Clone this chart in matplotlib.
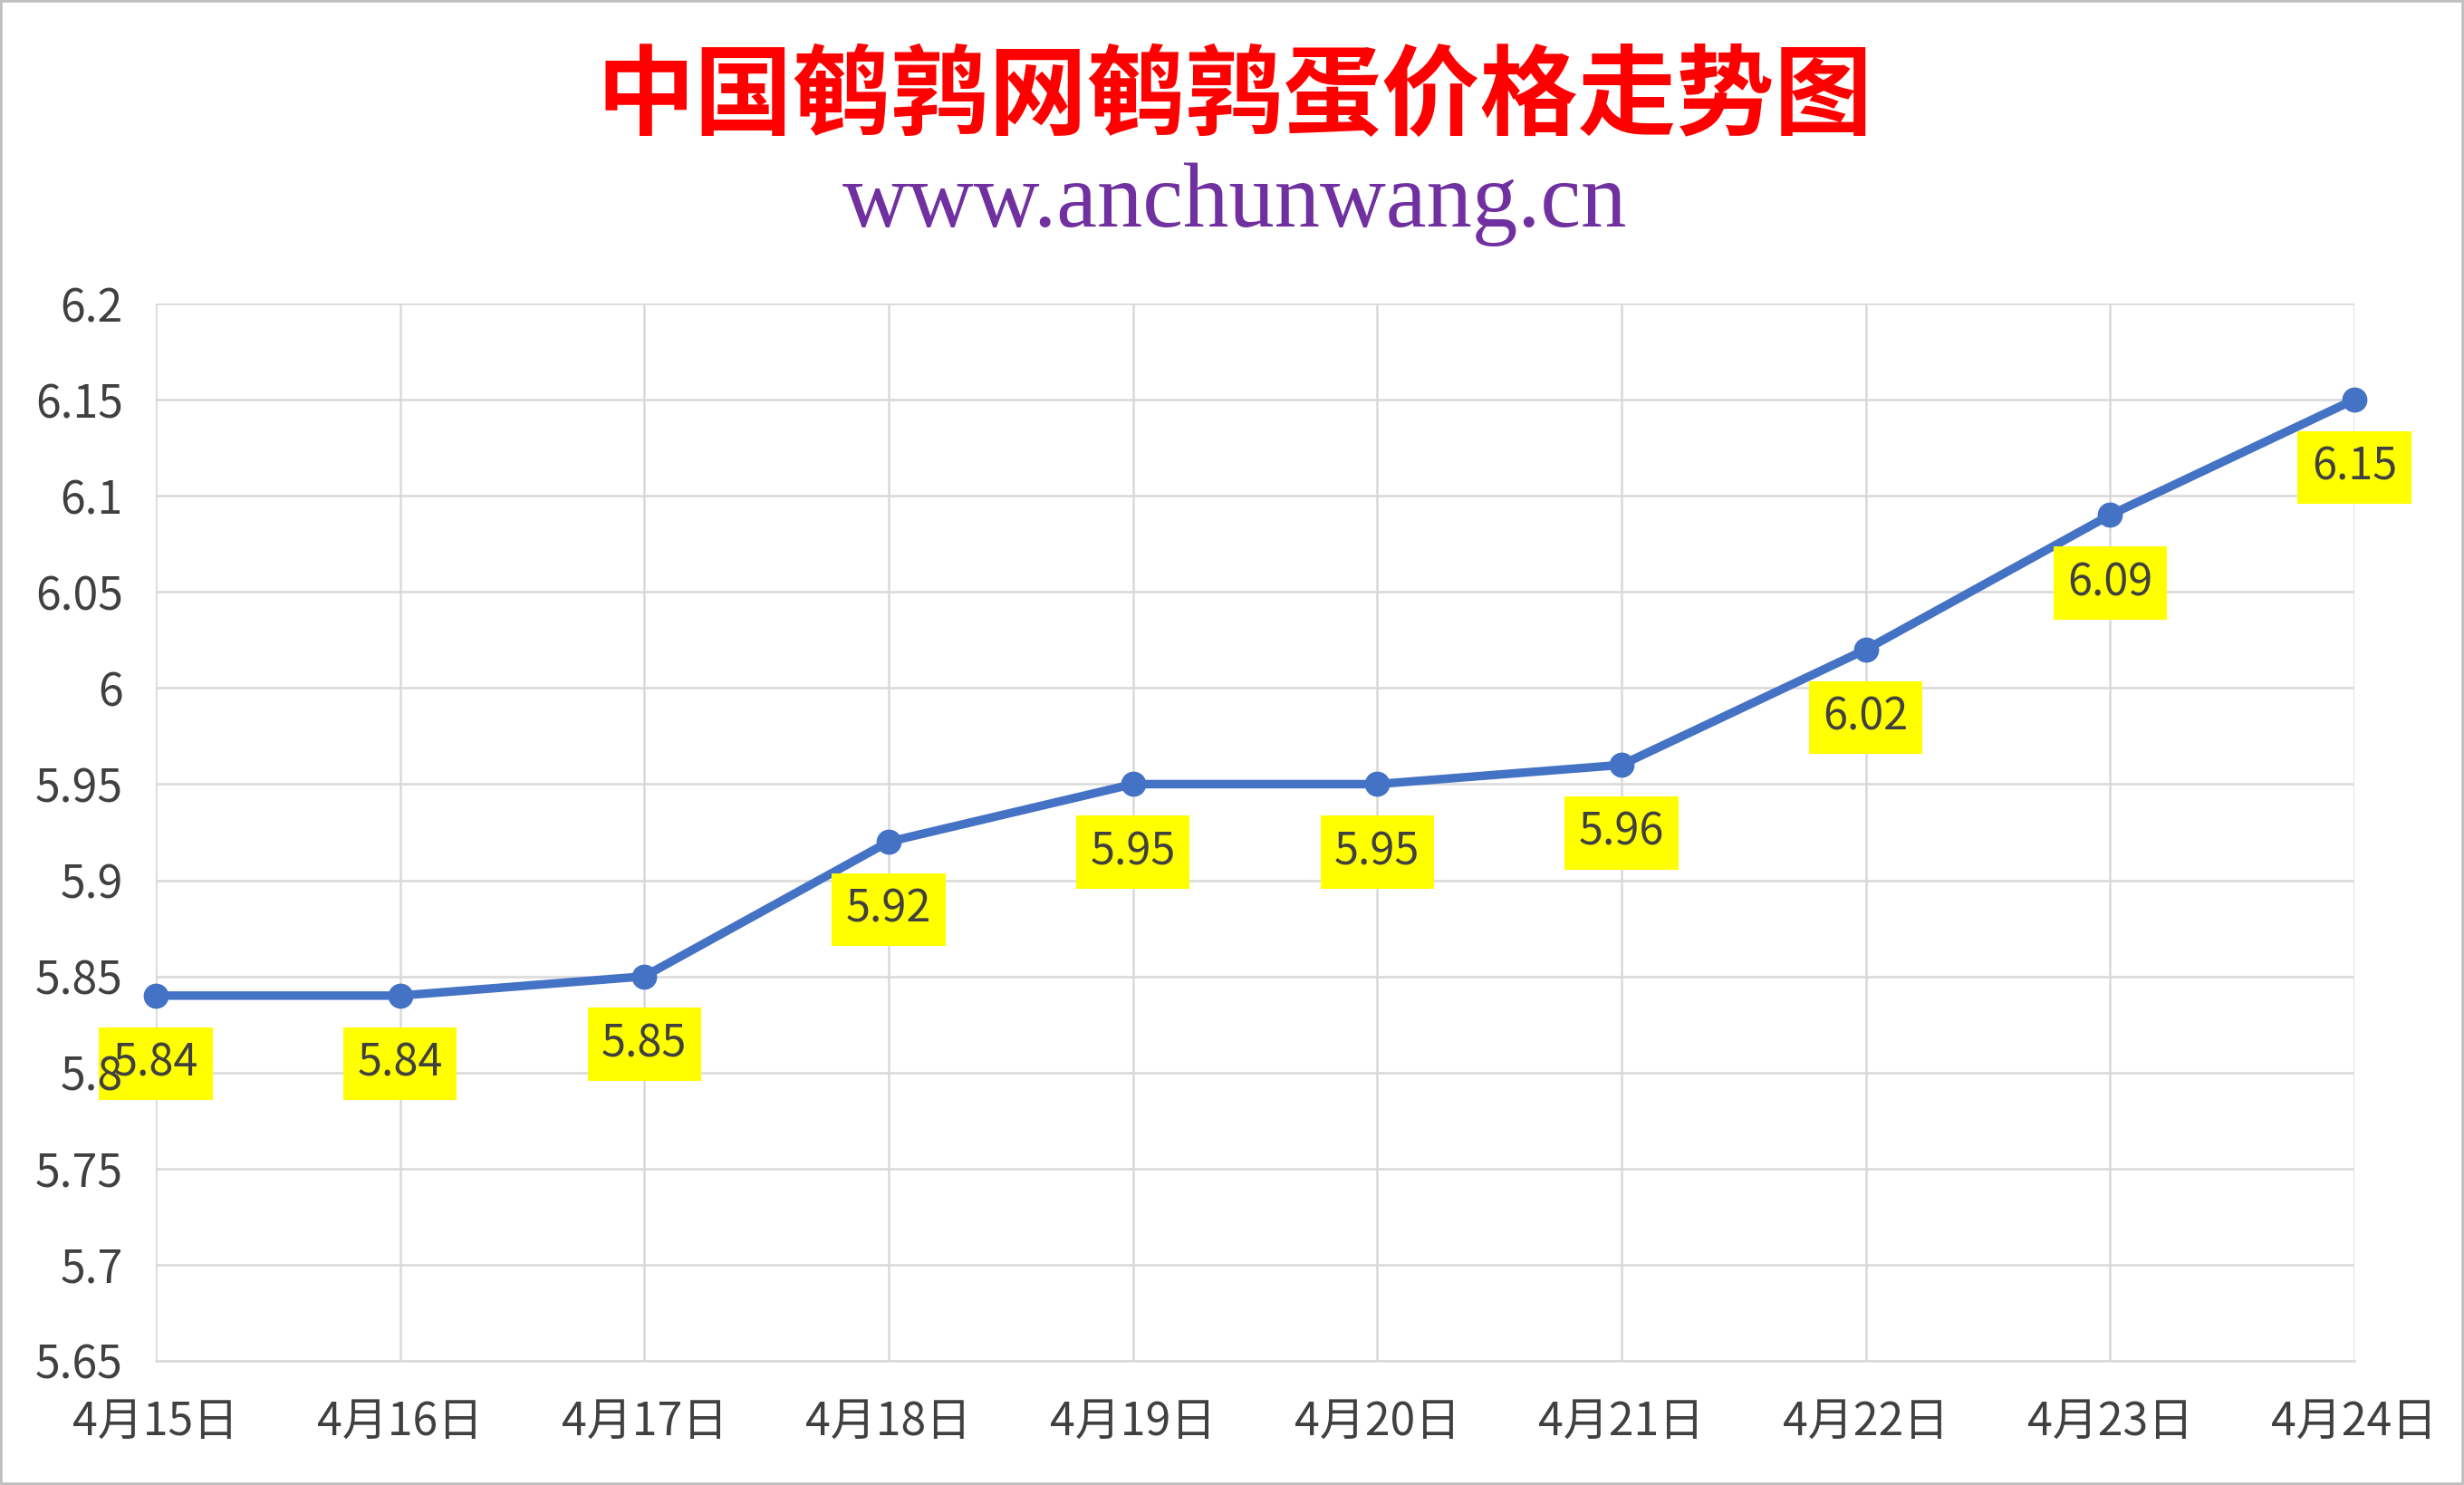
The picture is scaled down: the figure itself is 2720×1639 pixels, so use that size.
import matplotlib
matplotlib.use("Agg")
import matplotlib.pyplot as plt
from matplotlib.patches import Rectangle

#Chart data
dates = ["4月15日", "4月16日", "4月17日", "4月18日", "4月19日",
         "4月20日", "4月21日", "4月22日", "4月23日", "4月24日"]
prices = [5.84, 5.84, 5.85, 5.92, 5.95, 5.95, 5.96, 6.02, 6.09, 6.15]
y_ticks = [5.65, 5.7, 5.75, 5.8, 5.85, 5.9, 5.95, 6, 6.05, 6.1, 6.15, 6.2]
y_tick_labels = ["5.65", "5.7", "5.75", "5.8", "5.85", "5.9", "5.95", "6", "6.05", "6.1", "6.15", "6.2"]

title = "中国鹌鹑网鹌鹑蛋价格走势图"
subtitle = "www.anchunwang.cn"

plt.rcParams['font.family'] = ['Noto Sans CJK SC', 'DejaVu Sans']

fig = plt.figure(figsize=(27.2, 16.39), dpi=100)
fig.patch.set_facecolor("white")
pos = [0.0632, 0.0836, 0.8923, 0.712]
ax = fig.add_axes(pos)

x = list(range(len(dates)))
ax.plot(x, prices, color="#4472C4", lw=6.8, marker="o", markersize=19,
        zorder=4, clip_on=False)

#Data labels in yellow boxes below each point
for i, v in zip(x, prices):
    ax.annotate(f"{v:.2f}", (i, v), xytext=(0, -54), textcoords="offset points",
                ha="center", va="center", fontsize=35, color="#404040",
                bbox=dict(boxstyle="square,pad=0.32", fc="#FFFF00", ec="none"),
                zorder=5, annotation_clip=False)

ax.set_xlim(0, len(dates) - 1)
ax.set_ylim(5.65, 6.2)
ax.set_xticks(x)
ax.set_xticklabels(dates)
ax.set_yticks(y_ticks)
ax.tick_params(axis="both", length=0, labelsize=36, labelcolor="#404040")
ax.tick_params(axis="y", labelleft=False)
ax.tick_params(axis="x", pad=30)

ax.grid(True, color="#D9D9D9", lw=1.8)
ax.set_axisbelow(True)
for s in ["top", "right", "left"]:
    ax.spines[s].set_visible(False)
ax.spines["bottom"].set_color("#D9D9D9")
ax.spines["bottom"].set_linewidth(1.8)

#Y tick labels on an overlay so they sit above the yellow boxes
ax_lab = fig.add_axes(pos, sharey=ax, zorder=3)
ax_lab.patch.set_visible(False)
for s in ax_lab.spines.values():
    s.set_visible(False)
ax_lab.set_xticks([])
ax_lab.set_yticks(y_ticks)
ax_lab.set_yticklabels(y_tick_labels)
ax_lab.tick_params(axis="y", length=0, labelsize=36, labelcolor="#404040", pad=26)

#Titles
fig.text(0.501, 0.934, title, ha="center", va="center", fontsize=78,
         color="#FF0000", fontweight="bold")
fig.text(0.501, 0.862, subtitle, ha="center", va="center", fontsize=72.5,
         color="#7030A0", family=["Liberation Serif", "DejaVu Serif"])

#Outer frame
fig.patches.append(Rectangle((0, 0), 1, 1, transform=fig.transFigure,
                             fill=False, ec="#BFBFBF", lw=4))

fig.savefig("out.png", dpi=100)
